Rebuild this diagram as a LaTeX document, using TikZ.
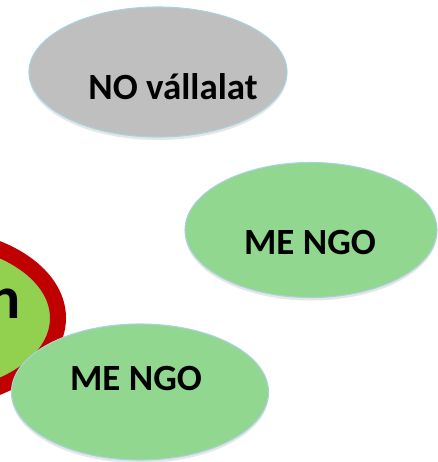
\documentclass[tikz,border=0pt]{standalone}
\usepackage{fontspec}
\setmainfont{Carlito}
\usetikzlibrary{shapes.geometric,shadows}

\definecolor{ovalgray}{HTML}{BFBFBF}
\definecolor{ovalgreen}{HTML}{92D78F}
\definecolor{hubgreen}{HTML}{92D050}
\definecolor{hubred}{HTML}{C00000}
\definecolor{rimblue}{HTML}{A8D2DC}

\tikzset{
  oval/.style={ellipse, inner sep=0pt, draw=rimblue, line width=1.1pt,
    drop shadow={opacity=0.2, shadow xshift=0pt, shadow yshift=-3pt}},
  ovaltext/.style={font=\fontsize{37}{40}\selectfont\bfseries, inner sep=0pt}
}

\begin{document}
\begin{tikzpicture}[x=1pt,y=-1pt]
\useasboundingbox (0,0) rectangle (437,462);

\node [ellipse, inner sep=0pt, minimum width=260pt, minimum height=164pt,
  draw=hubred, line width=16pt, fill=hubgreen] (hub) at (-72,318) {};
\node [ovaltext, font=\fontsize{60}{64}\selectfont\bfseries, anchor=base east] (hubtext) at (21,318) {n};

\node [oval, fill=ovalgray, minimum width=258pt, minimum height=130pt] (nov) at (158,72) {};
\node [ovaltext] (novtext) at (173,87) {NO vállalat};

\node [oval, fill=ovalgreen, minimum width=252pt, minimum height=135pt] (ngoa) at (311,230) {};
\node [ovaltext] (ngoatext) at (310,242) {ME NGO};

\node [oval, fill=ovalgreen, minimum width=257pt, minimum height=136pt] (ngob) at (140,392) {};
\node [ovaltext] (ngobtext) at (136,378) {ME NGO};
\end{tikzpicture}
\end{document}
